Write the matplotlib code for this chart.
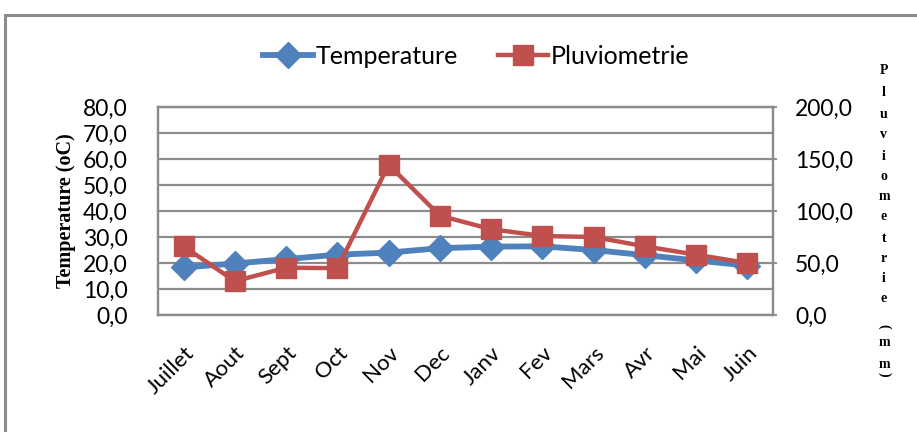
import matplotlib
matplotlib.use("Agg")
import matplotlib.pyplot as plt
from matplotlib.patches import Rectangle
from matplotlib.lines import Line2D

months = ["Juillet", "Aout", "Sept", "Oct", "Nov", "Dec", "Janv", "Fev",
          "Mars", "Avr", "Mai", "Juin"]
temperature = [18.3, 19.8, 21.5, 23.2, 24.0, 25.7, 26.3, 26.4, 25.0, 23.0, 21.0, 19.0]
pluviometrie = [66.0, 32.5, 45.5, 45.0, 144.5, 95.5, 82.5, 76.0, 75.0, 66.0, 58.0, 50.0]

left_ticks = [0, 10, 20, 30, 40, 50, 60, 70, 80]
right_ticks = [0, 50, 100, 150, 200]

BLUE = "#4F81BD"
RED = "#C0504D"
GRID = "#8C8C8C"
FONT = ["Lato", "DejaVu Sans"]
SERIF = ["Liberation Serif", "DejaVu Serif"]

W, H = 917, 432
fig = plt.figure(figsize=(W / 100, H / 100), dpi=100)

# outer chart border
fig.patches.append(Rectangle((5 / W, -0.05), 1.2, 1 - 15 / H + 0.05,
                             transform=fig.transFigure, fill=False,
                             edgecolor="#8C8C8C", linewidth=2.2))

ax = fig.add_axes([158 / W, 1 - 315 / H, (773 - 158) / W, (315 - 107) / H])
ax2 = ax.twinx()

x = list(range(len(months)))
ax.plot(x, temperature, color=BLUE, lw=4.2, marker="D", ms=13,
        markerfacecolor=BLUE, markeredgecolor=BLUE, zorder=3)
ax2.plot(x, pluviometrie, color=RED, lw=3.2, marker="s", ms=14.5,
         markerfacecolor=RED, markeredgecolor=RED, zorder=4)

ax.set_xlim(-0.5, len(months) - 0.5)
ax.set_ylim(0, 80)
ax2.set_ylim(0, 200)
ax.set_yticks(left_ticks)
ax.set_yticklabels([f"{v:.1f}".replace(".", ",") for v in left_ticks],
                   fontsize=16.5, family=FONT)
ax2.set_yticks(right_ticks)
ax2.set_yticklabels([f"{v:.1f}".replace(".", ",") for v in right_ticks],
                    fontsize=16.5, family=FONT)
ax.set_xticks(x)
ax.set_xticklabels(months, rotation=45, ha="right", va="top",
                   rotation_mode="anchor", fontsize=16, family=FONT)

ax.grid(axis="y", color=GRID, lw=1.6)
ax.set_axisbelow(True)
ax.tick_params(axis="y", length=0, pad=22)
ax.tick_params(axis="x", length=0, pad=20)
ax2.tick_params(axis="y", length=3, width=1.4, color=GRID, pad=13)
for a in (ax, ax2):
    for s in a.spines.values():
        s.set_color(GRID)
        s.set_linewidth(1.6)

ax.set_ylabel("Temperature (oC)", family=SERIF, fontweight="bold",
              fontsize=14.5)
ax.yaxis.set_label_coords((76 - 158) / (773 - 158), 0.5)

# right-hand axis title, one letter per line
title_chars = list("Pluviometrie") + ["(", "m", "m", ")"]
ys = [70, 92, 114, 135, 156, 176, 196, 217, 238, 258, 278, 299, 326, 342, 364, 374]
for ch, yy in zip(title_chars, ys):
    rot = -90 if ch in "()" else 0
    fig.text(884 / W, 1 - yy / H, ch, ha="center", va="center",
             family=SERIF, fontweight="bold", fontsize=10, rotation=rot)

handles = [
    Line2D([], [], color=BLUE, lw=4.2, marker="D", ms=13),
    Line2D([], [], color=RED, lw=3.2, marker="s", ms=14.5),
]
fig.legend(handles, ["Temperature", "Pluviometrie"], loc="center",
           bbox_to_anchor=(476 / W, 1 - 56 / H), ncol=2, frameon=False,
           prop={"family": FONT, "size": 18}, handlelength=2.0,
           columnspacing=1.6, handletextpad=0.1)

fig.savefig("out.png", dpi=100)
